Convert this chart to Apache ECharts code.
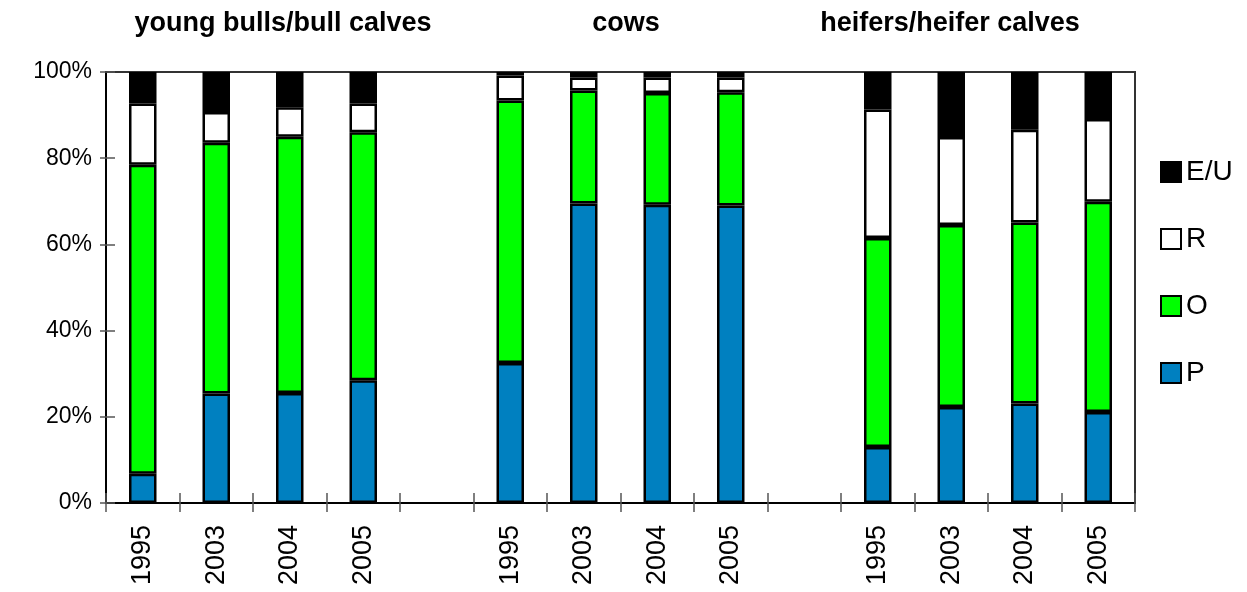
<!DOCTYPE html>
<html>
<head>
<meta charset="utf-8">
<script src="https://cdn.jsdelivr.net/npm/echarts@6/dist/echarts.min.js"></script>
<style>html,body{margin:0;padding:0;background:#fff;}#c{width:1247px;height:592px;}</style>
</head>
<body>
<div id="c"></div>
<script>
var categories = ['1995','2003','2004','2005','','1995','2003','2004','2005','','1995','2003','2004','2005'];
var groupTitles = ['young bulls/bull calves','cows','heifers/heifer calves'];
var P  = [6.8, 25.4, 25.5, 28.5, null, 32.5, 69.5, 69.2, 69.0, null, 13.0, 22.3, 23.1, 21.1];
var O  = [71.7, 58.2, 59.5, 57.5, null, 60.9, 26.2, 25.9, 26.3, null, 48.5, 42.2, 42.0, 48.8];
var R  = [14.2, 7.1, 6.8, 6.7, null, 5.8, 3.0, 3.6, 3.4, null, 29.8, 20.4, 21.5, 19.2];
var EU = [7.3, 9.3, 8.2, 7.3, null, 0.8, 1.3, 1.3, 1.3, null, 8.7, 15.1, 13.4, 10.9];
var yTicks = [0, 20, 40, 60, 80, 100];

var chart = echarts.init(document.getElementById('c'));
var font = 'Liberation Sans, Arial, sans-serif';
function mkSeries(name, data, color) {
  return {
    name: name, type: 'bar', stack: 'all', data: data, barWidth: 27.5,
    xAxisIndex: 0, yAxisIndex: 0,
    itemStyle: { color: color, borderColor: '#000', borderWidth: 2.5 }
  };
}
var titleX = [283, 626, 950];
chart.setOption({
  animation: false,
  title: groupTitles.map(function (t, i) {
    return { text: t, left: titleX[i], top: 10, padding: 0, textAlign: 'center',
      textStyle: { fontFamily: font, fontSize: 27, fontWeight: 'bold', color: '#000' } };
  }),
  grid: { left: 106, right: 112, top: 72, bottom: 89, show: true, borderColor: '#333', borderWidth: 2, backgroundColor: 'transparent' },
  legend: {
    orient: 'vertical', left: 1155, top: 153, itemWidth: 20, itemHeight: 20, itemGap: 39,
    data: ['E/U', 'R', 'O', 'P'], icon: 'rect',
    textStyle: { fontFamily: font, fontSize: 28, color: '#000', padding: [0, 0, 0, 0] }
  },
  xAxis: [{
    type: 'category', data: categories, position: 'bottom',
    axisLine: { lineStyle: { color: '#000', width: 2 } },
    axisTick: { show: true, inside: false, length: 9, lineStyle: { color: '#555', width: 1.5 } },
    axisLabel: { rotate: 90, margin: 22, fontFamily: font, fontSize: 27, color: '#000', interval: 0 }
  }, {
    type: 'category', data: categories, position: 'bottom',
    axisLine: { show: false },
    axisTick: { show: true, inside: true, length: 10, lineStyle: { color: '#555', width: 1.5 } },
    axisLabel: { show: false }
  }],
  yAxis: [{
    type: 'value', min: 0, max: 100, interval: 20, position: 'left',
    axisLine: { show: true, lineStyle: { color: '#000', width: 2 } },
    axisTick: { show: true, inside: false, length: 6, lineStyle: { color: '#555', width: 1.5 } },
    splitLine: { show: false },
    axisLabel: { margin: 14, fontFamily: font, fontSize: 23, color: '#000',
      formatter: function (v) { return yTicks.indexOf(v) >= 0 ? v + '%' : ''; } }
  }, {
    type: 'value', min: 0, max: 100, interval: 20, position: 'left', offset: 0,
    axisLine: { show: false },
    axisTick: { show: true, inside: true, length: 9, lineStyle: { color: '#555', width: 1.5 } },
    splitLine: { show: false },
    axisLabel: { show: false }
  }],
  series: [
    mkSeries('P', P, '#0080C0'),
    mkSeries('O', O, '#00FF00'),
    mkSeries('R', R, '#FFFFFF'),
    mkSeries('E/U', EU, '#000000')
  ]
});
</script>
</body>
</html>
